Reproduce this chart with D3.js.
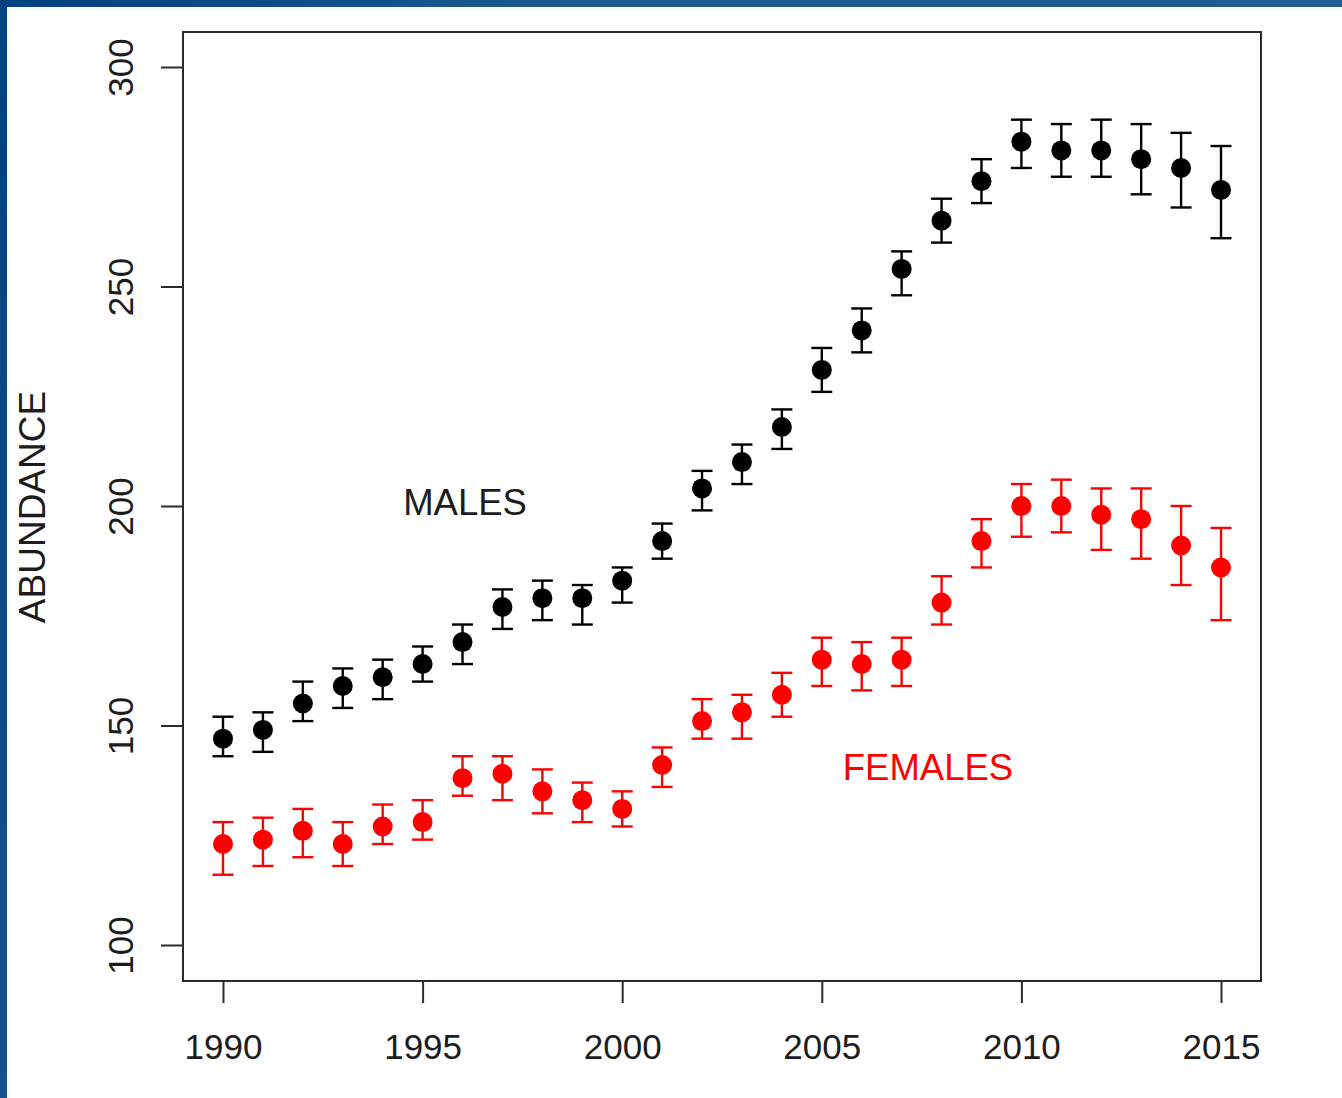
<!DOCTYPE html>
<html>
<head>
<meta charset="utf-8">
<script src="https://cdn.jsdelivr.net/npm/d3@7"></script>
<style>
html,body{margin:0;padding:0;background:#fff;}
svg{display:block;}
text{font-family:"Liberation Sans",Arial,Helvetica,sans-serif;}
</style>
</head>
<body>
<svg id="chart" width="1342" height="1098"></svg>
<script>
const years = [1990,1991,1992,1993,1994,1995,1996,1997,1998,1999,2000,2001,2002,2003,2004,2005,2006,2007,2008,2009,2010,2011,2012,2013,2014,2015];
const maleMean = [147,149,155,159,161,164,169,177,179,179,183,192,204,210,218,231,240,254,265,274,283,281,281,279,277,272];
const maleLow  = [143,144,151,154,156,160,164,172,174,173,178,188,199,205,213,226,235,248,260,269,277,275,275,271,268,261];
const maleHigh = [152,153,160,163,165,168,173,181,183,182,186,196,208,214,222,236,245,258,270,279,288,287,288,287,285,282];
const femaleMean = [123,124,126,123,127,128,138,139,135,133,131,141,151,153,157,165,164,165,178,192,200,200,198,197,191,186];
const femaleLow  = [116,118,120,118,123,124,134,133,130,128,127,136,147,147,152,159,158,159,173,186,193,194,190,188,182,174];
const femaleHigh = [128,129,131,128,132,133,143,143,140,137,135,145,156,157,162,170,169,170,184,197,205,206,204,204,200,195];
const xTicks = [1990,1995,2000,2005,2010,2015];
const yTicks = [100,150,200,250,300];
const yLabel = "ABUNDANCE";
const seriesLabels = ["MALES","FEMALES"];

const svg = d3.select("#chart");

// slide frame background
const defs = svg.append("defs");
const grad = defs.append("linearGradient").attr("id","frame").attr("x1","0").attr("y1","0").attr("x2","1").attr("y2","0.3");
grad.append("stop").attr("offset","0").attr("stop-color","#00427f");
grad.append("stop").attr("offset","0.4").attr("stop-color","#1d5a8e");
grad.append("stop").attr("offset","1").attr("stop-color","#1f5d92");
svg.append("rect").attr("x",0).attr("y",0).attr("width",1342).attr("height",1098).attr("fill","url(#frame)");
svg.append("rect").attr("x",7).attr("y",7).attr("width",1335).attr("height",1091).attr("fill","#fff");

const x = d3.scaleLinear().domain([1990,2015]).range([223,1221]);
const y = d3.scaleLinear().domain([100,300]).range([945,67]);

const box = {l:183, t:32, r:1261, b:981};
const axisColor = "#2b2b2b";
const textColor = "#1c1c1c";

// x axis
const xAxis = svg.append("g").attr("transform",`translate(0,${box.b})`)
  .call(d3.axisBottom(x).tickValues(xTicks).tickFormat(d3.format("d")).tickSizeOuter(0).tickSize(22).tickPadding(31));
xAxis.select(".domain").remove();
xAxis.selectAll(".tick line").attr("stroke",axisColor).attr("stroke-width",2);
xAxis.selectAll(".tick text").attr("fill",textColor).attr("font-size",35).attr("font-family","Liberation Sans, Arial, sans-serif");

// y axis
const yAxis = svg.append("g").attr("transform",`translate(${box.l},0)`)
  .call(d3.axisLeft(y).tickValues(yTicks).tickFormat(d3.format("d")).tickSizeOuter(0).tickSize(22));
yAxis.select(".domain").remove();
yAxis.selectAll(".tick line").attr("stroke",axisColor).attr("stroke-width",2);
yAxis.selectAll(".tick text").remove();
yAxis.selectAll(".tick").append("text")
  .attr("transform","translate(-63,0) rotate(-90)")
  .attr("text-anchor","middle")
  .attr("dy","0.36em")
  .attr("fill",textColor).attr("font-size",35)
  .attr("font-family","Liberation Sans, Arial, sans-serif")
  .text(d => d);

// plot box
svg.append("rect").attr("x",box.l).attr("y",box.t).attr("width",box.r-box.l).attr("height",box.b-box.t)
  .attr("fill","none").attr("stroke",axisColor).attr("stroke-width",2);

// y label
svg.append("text").attr("transform","translate(32,507) rotate(-90)")
  .attr("text-anchor","middle").attr("dy","0.36em")
  .attr("fill",textColor).attr("font-size",37).text(yLabel);

function drawSeries(mean, low, high, color){
  const g = svg.append("g");
  const data = years.map((yr,i)=>({yr, m:mean[i], lo:low[i], hi:high[i]}));
  g.selectAll("line.stem").data(data).join("line")
    .attr("x1",d=>x(d.yr)).attr("x2",d=>x(d.yr))
    .attr("y1",d=>y(d.lo)).attr("y2",d=>y(d.hi))
    .attr("stroke",color).attr("stroke-width",2.4);
  g.selectAll("line.capT").data(data).join("line")
    .attr("x1",d=>x(d.yr)-10.5).attr("x2",d=>x(d.yr)+10.5)
    .attr("y1",d=>y(d.hi)).attr("y2",d=>y(d.hi))
    .attr("stroke",color).attr("stroke-width",2.4);
  g.selectAll("line.capB").data(data).join("line")
    .attr("x1",d=>x(d.yr)-10.5).attr("x2",d=>x(d.yr)+10.5)
    .attr("y1",d=>y(d.lo)).attr("y2",d=>y(d.lo))
    .attr("stroke",color).attr("stroke-width",2.4);
  g.selectAll("circle").data(data).join("circle")
    .attr("cx",d=>x(d.yr)).attr("cy",d=>y(d.m)).attr("r",10)
    .attr("fill",color);
}
drawSeries(maleMean, maleLow, maleHigh, "#000000");
drawSeries(femaleMean, femaleLow, femaleHigh, "#ff0000");

svg.append("text").attr("x",465).attr("y",502).attr("text-anchor","middle").attr("dy","0.36em")
  .attr("fill",textColor).attr("font-size",36.5).text(seriesLabels[0]);
svg.append("text").attr("x",928).attr("y",767).attr("text-anchor","middle").attr("dy","0.36em")
  .attr("fill","#ff0000").attr("font-size",36.5).text(seriesLabels[1]);
</script>
</body>
</html>
